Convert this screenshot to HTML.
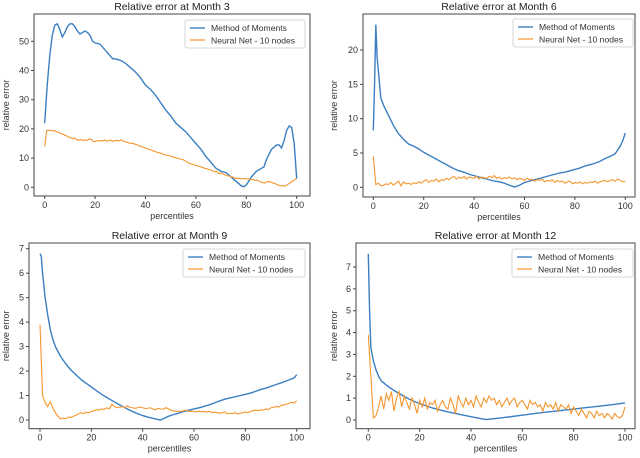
<!DOCTYPE html>
<html><head><meta charset="utf-8"><style>
body{margin:0;background:#fff;}
svg{display:block;font-family:"Liberation Sans","DejaVu Sans",sans-serif;}
</style></head><body>
<svg id="fig" width="640" height="458" viewBox="0 0 640 458"></svg>
<script>
// ---- Data ----
const p1MomX=[0,1,2,3,4,5,6,7,8,9,10,11,12,13,14,15,16,17,18,19,20,22,24,26,27,28,30,32,34,36,38,40,42,44,46,48,50,52,54,56,58,60,62,64,66,68,70,72,74,76,78,79,80,82,84,86,87,88,90,92,93,94,95,96,97,98,99,100];
const p1MomY=[22,35,45,52,55.5,56,54,51.5,53,55,56,56,55,53.5,52.5,53,53.5,53,52,50,49.5,49,47,45,44,44,43.5,42.5,41,39.5,37.5,35,33.5,31.5,29,26.5,24.5,22,20.5,19,17,15,13,10.5,8.5,6.5,5.5,5,3.5,2,0.5,0.2,0.8,3.5,5.5,6.5,7,9.5,13,14.5,14.5,13.5,16,19.5,21,20.5,15,3];
const p1NetY=[14,19.5,19.4,19.6,19.3,19.4,19,18.8,18.5,18.2,17.8,17.6,17.2,17,16.6,16.9,16.3,16.1,16.4,16,16.2,16,16.4,16.6,15.9,15.6,16,15.8,16.1,15.9,16.2,15.8,16,16.2,15.7,16,16.1,15.9,16.2,16,15.6,15.5,15.2,15,15.1,14.8,14.6,14.2,14,13.8,13.5,13.3,13,12.9,12.5,12.4,12,11.9,11.7,11.4,11.2,11,10.8,10.7,10.4,10.2,10,9.9,9.6,9.5,9.2,8.7,8.3,8,7.9,7.6,7.5,7.2,7,6.8,6.5,6.4,6.1,6,5.6,5.3,5.5,4.6,5,4.6,4.3,4,3.9,3.6,3.5,3.2,3,3.1,2.9,3,3.0,2.8,2.9,2.6,2.7,2.4,2.5,2.2,1.8,1.6,1.4,1.9,2,1.8,1.5,1.3,1.0,0.7,0.5,0.6,0.4,0.8,1.2,1.6,2.2,2.6,3];
const p2MomX=[0,0.5,1,1.5,2,3,4,6,8,10,12,14,16,18,20,22,24,26,28,30,32,34,36,38,40,42,44,46,48,50,52,54,56,58,60,62,64,66,68,70,72,74,76,78,80,82,84,86,88,90,92,94,96,98,99,100];
const p2MomY=[8.3,15,23.7,19,17,13,12,10.5,9,7.8,7,6.3,6,5.6,5.1,4.7,4.3,3.9,3.5,3.1,2.7,2.4,2.2,1.9,1.7,1.5,1.3,1.1,0.9,0.8,0.6,0.3,0.05,0.3,0.7,0.9,1.1,1.3,1.5,1.7,1.9,2.1,2.2,2.4,2.6,2.8,3.1,3.3,3.5,3.8,4.2,4.5,4.9,6,6.8,7.9];
const p2NetY=[4.5,0.4,0.6,0.2,0.3,0.5,0.4,0.7,0.3,0.6,0.9,0.2,0.8,0.5,0.6,0.4,0.7,0.5,0.8,0.6,0.9,1.1,0.7,1.0,0.9,1.2,0.8,1.1,1.0,1.3,1.1,1.4,1.6,1.2,1.5,1.3,1.6,1.2,1.5,1.4,1.3,1.6,1.2,1.5,1.4,1.3,1.6,1.4,1.7,1.3,1.5,1.2,1.4,1.3,1.5,1.2,1.4,1.1,1.3,1.2,1.0,1.3,1.1,1.2,0.9,1.1,1.0,1.2,0.8,1.0,0.9,1.1,0.7,1.0,0.8,0.9,0.6,0.8,0.9,0.5,0.7,0.6,0.8,0.5,0.7,0.6,0.8,0.7,0.9,0.6,0.8,0.9,1.0,0.8,1.0,1.1,0.9,1.2,1.0,0.8,0.9];
const p3MomX=[0,0.5,1,2,3,4,5,6,8,10,12,14,16,18,20,22,24,26,28,30,32,34,36,38,40,42,44,46,47,48,50,52,54,56,58,60,62,64,66,68,70,72,74,76,78,80,82,84,86,88,90,92,94,96,98,99,100];
const p3MomY=[6.8,6.7,6,5,4.3,3.7,3.3,3.0,2.6,2.3,2.05,1.85,1.65,1.5,1.35,1.2,1.05,0.92,0.8,0.68,0.56,0.45,0.35,0.26,0.18,0.12,0.07,0.02,0,0.05,0.15,0.22,0.28,0.35,0.4,0.45,0.5,0.56,0.62,0.7,0.78,0.85,0.9,0.95,1.0,1.05,1.1,1.17,1.25,1.3,1.38,1.45,1.52,1.6,1.68,1.72,1.85];
const p3NetY=[3.9,1.0,0.7,0.55,0.75,0.5,0.3,0.15,0.05,0.08,0.05,0.12,0.1,0.15,0.2,0.25,0.3,0.25,0.32,0.3,0.35,0.38,0.42,0.4,0.45,0.43,0.5,0.45,0.65,0.55,0.5,0.52,0.55,0.5,0.58,0.52,0.5,0.48,0.5,0.53,0.5,0.47,0.48,0.5,0.45,0.42,0.48,0.45,0.44,0.5,0.46,0.4,0.38,0.35,0.36,0.35,0.38,0.4,0.35,0.36,0.35,0.33,0.36,0.34,0.35,0.32,0.36,0.3,0.32,0.3,0.28,0.3,0.33,0.25,0.28,0.26,0.3,0.25,0.27,0.3,0.33,0.3,0.35,0.38,0.4,0.38,0.42,0.4,0.45,0.43,0.5,0.52,0.55,0.53,0.6,0.62,0.65,0.68,0.72,0.7,0.78];
const p4MomX=[0,0.5,1,2,3,4,5,7,10,13,16,20,25,30,35,40,44,46,48,52,56,60,65,70,75,80,85,90,95,100];
const p4MomY=[7.6,5,3.3,2.7,2.3,2.0,1.8,1.6,1.35,1.15,0.95,0.75,0.55,0.4,0.27,0.15,0.06,0.02,0.05,0.1,0.16,0.22,0.3,0.37,0.43,0.5,0.57,0.63,0.7,0.78];
const p4NetY=[3.9,2.0,0.1,0.2,0.6,1.1,0.5,1.2,0.9,1.3,0.4,1.0,1.3,0.6,1.1,0.8,0.5,1.0,0.7,0.3,0.9,0.6,1.0,0.5,0.8,0.7,0.9,0.4,0.7,0.9,0.6,0.5,1.0,0.7,0.3,1.1,0.8,0.6,1.0,0.7,0.9,0.6,1.1,0.8,0.6,1.0,0.8,1.1,0.9,1.0,0.7,0.9,0.6,0.8,1.0,0.7,0.9,1.0,0.6,0.8,0.9,0.7,0.5,0.9,0.7,0.8,0.6,0.7,0.4,0.8,0.6,0.7,0.5,0.8,0.4,0.7,0.6,0.5,0.7,0.3,0.6,0.4,0.2,0.5,0.3,0.1,0.4,0.3,0.1,0.4,0.2,0.3,0.1,0.3,0.2,0.05,0.3,0.15,0.1,0.2,0.6];
const xTicks=[0,20,40,60,80,100];
const p1YTicks=[0,10,20,30,40,50];
const p2YTicks=[0,5,10,15,20];
const p3YTicks=[0,1,2,3,4,5,6,7];
const p4YTicks=[0,1,2,3,4,5,6,7];
const titles=["Relative error at Month 3","Relative error at Month 6","Relative error at Month 9","Relative error at Month 12"];

const NS="http://www.w3.org/2000/svg";
const svg=document.getElementById('fig');
function mk(tag,attrs,parent,text){const e=document.createElementNS(NS,tag);for(const k in attrs)e.setAttribute(k,attrs[k]);if(text!==undefined)e.textContent=text;(parent||svg).appendChild(e);return e;}

function panel(idx,cfg){
  const g=mk('g',{});
  
  
  const sx=v=>cfg.x0+(v/100)*(cfg.x100-cfg.x0);
  const sy=v=>cfg.y0-(v/cfg.yRef)*(cfg.y0-cfg.yRefPx);
  const t=mk('text',{x:(cfg.fl+cfg.fr)/2,y:cfg.ft-4,'text-anchor':'middle','font-size':10.5,fill:'#222'},g,titles[idx]);
  
  
  const clipId='clip'+idx;
  const cp=mk('clipPath',{id:clipId},g);mk('rect',{x:cfg.fl,y:cfg.ft,width:cfg.fr-cfg.fl,height:cfg.fb-cfg.ft},cp);
  const lg=mk('g',{'clip-path':'url(#'+clipId+')'},g);
  const mom=mk('polyline',{points:cfg.momX.map((x,i)=>sx(x)+','+sy(cfg.momY[i])).join(' '),fill:'none',stroke:'#3a7fc1','stroke-width':1.4},lg);
  
  
  const n=cfg.netY.length;
  const net=mk('polyline',{points:cfg.netY.map((y,i)=>sx(i*100/(n-1))+','+sy(y)).join(' '),fill:'none',stroke:'#f5962e','stroke-width':1.1},lg);
  
  
  const fr=mk('rect',{x:cfg.fl,y:cfg.ft,width:cfg.fr-cfg.fl,height:cfg.fb-cfg.ft,fill:'none',stroke:'#444','stroke-width':1},g);
  
  
  xTicks.forEach(v=>{
    mk('line',{x1:sx(v),x2:sx(v),y1:cfg.fb,y2:cfg.fb+3,stroke:'#444'},g);
    const tl=mk('text',{x:sx(v),y:cfg.fb+12,'text-anchor':'middle','font-size':9,fill:'#333'},g,v);
    
    
  });
  cfg.yTicks.forEach(v=>{
    mk('line',{x1:cfg.fl-3,x2:cfg.fl,y1:sy(v),y2:sy(v),stroke:'#444'},g);
    const tl=mk('text',{x:cfg.fl-5,y:sy(v)+3,'text-anchor':'end','font-size':9,fill:'#333'},g,v);
    
    
  });
  const xl=mk('text',{x:(cfg.fl+cfg.fr)/2,y:cfg.fb+23,'text-anchor':'middle','font-size':9,fill:'#333'},g,'percentiles');
  
  
  const yc=(cfg.ft+cfg.fb)/2;
  const yl=mk('text',{x:cfg.ylx,y:yc,'text-anchor':'middle','font-size':9,fill:'#333',transform:'rotate(-90 '+cfg.ylx+' '+yc+')'},g,'relative error');
  
  
  const L=cfg.leg;
  const lgd=mk('g',{},g);
  
  
  mk('rect',{x:L[0],y:L[1],width:L[2]-L[0],height:28,fill:'#fff',stroke:'#ccc','stroke-width':0.8,rx:2},lgd);
  mk('line',{x1:L[0]+5,x2:L[0]+20,y1:L[1]+8,y2:L[1]+8,stroke:'#3a7fc1','stroke-width':1.4},lgd);
  const e1=mk('text',{x:L[0]+26,y:L[1]+11,'font-size':8.6,fill:'#333'},lgd,'Method of Moments');
  
  
  mk('line',{x1:L[0]+5,x2:L[0]+20,y1:L[1]+20,y2:L[1]+20,stroke:'#f5962e','stroke-width':1.2},lgd);
  const e2=mk('text',{x:L[0]+26,y:L[1]+23.5,'font-size':8.6,fill:'#333'},lgd,'Neural Net - 10 nodes');
  
  
}
panel(0,{fl:34,fr:310,ft:14,fb:196,x0:44.7,x100:296.7,y0:187.3,yRef:50,yRefPx:41.3,yTicks:p1YTicks,momX:p1MomX,momY:p1MomY,netY:p1NetY,ylx:9,leg:[185,20,305]});
panel(1,{fl:363,fr:635,ft:14,fb:197,x0:373.3,x100:625.3,y0:187.3,yRef:20,yRefPx:50,yTicks:p2YTicks,momX:p2MomX,momY:p2MomY,netY:p2NetY,ylx:337,leg:[513,19,633]});
panel(2,{fl:29,fr:310,ft:243,fb:428.7,x0:40,x100:296.7,y0:420,yRef:7,yRefPx:248.7,yTicks:p3YTicks,momX:p3MomX,momY:p3MomY,netY:p3NetY,ylx:9,leg:[183,249,305]});
panel(3,{fl:356,fr:635,ft:243,fb:428.7,x0:368.3,x100:625,y0:420,yRef:7,yRefPx:267,yTicks:p4YTicks,momX:p4MomX,momY:p4MomY,netY:p4NetY,ylx:337,leg:[512,249,633]});
</script>
</body></html>
